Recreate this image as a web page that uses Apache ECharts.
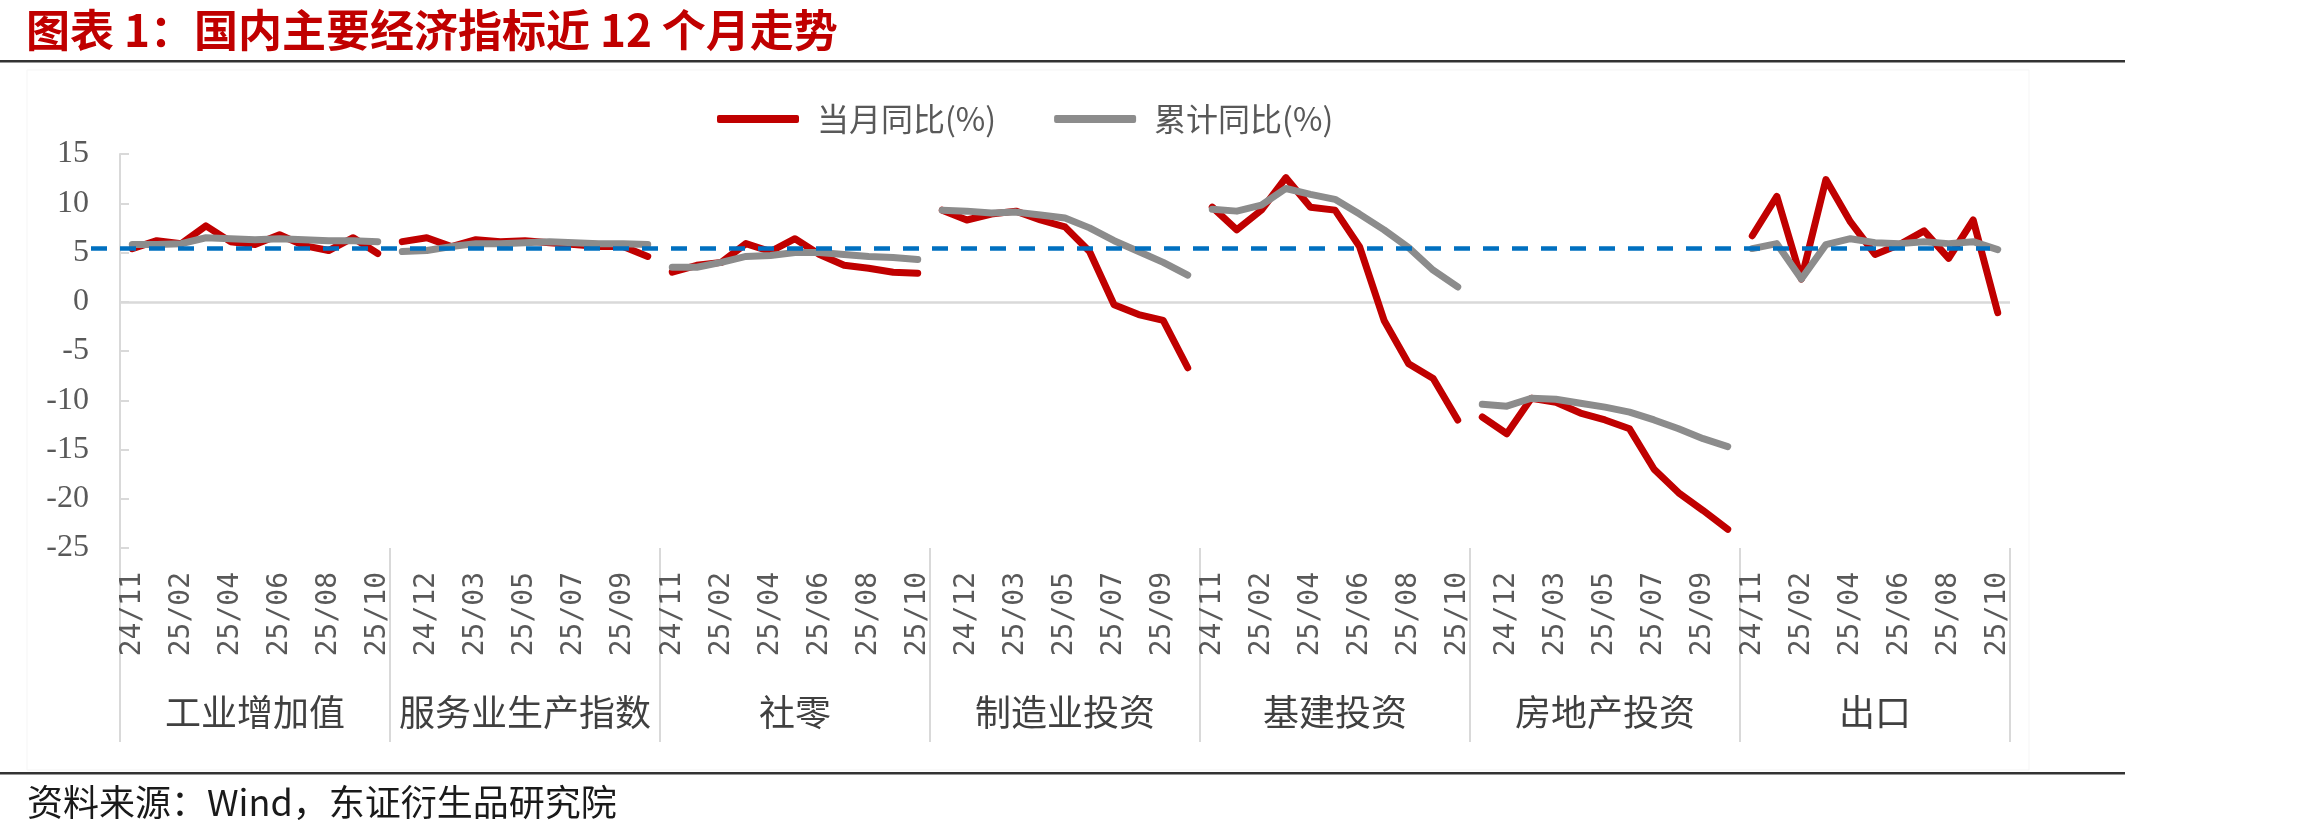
<!DOCTYPE html>
<html>
<head>
<meta charset="utf-8">
<title>国内主要经济指标近12个月走势</title>
<script src="https://cdn.jsdelivr.net/npm/echarts@6/dist/echarts.min.js"></script>
<style>
    html,body{margin:0;padding:0;background:#fff;}
    #main{width:2303px;height:833px;}
</style>
</head>
<body>
<div id="main"></div>
<script>
//月份（1、2月合并）
let months = ['24/11','24/12','25/02','25/03','25/04','25/05','25/06','25/07','25/08','25/09','25/10']
//指标分组
let groups = ['工业增加值','服务业生产指数','社零','制造业投资','基建投资','房地产投资','出口']
//y轴刻度
let yTicks = [-25,-20,-15,-10,-5,0,5,10,15]
//参考虚线
let refValue = 5.4

//当月同比
let monthIndustry = [5.4, 6.2, 5.9, 7.7, 6.1, 5.8, 6.8, 5.7, 5.2, 6.5, 4.9]
let monthService  = [6.1, 6.5, 5.6, 6.3, 6.1, 6.2, 6.0, 5.8, 5.6, 5.6, 4.6]
let monthRetail   = [3.0, 3.7, 4.0, 5.9, 5.1, 6.4, 4.8, 3.7, 3.4, 3.0, 2.9]
let monthManu     = [9.3, 8.3, 8.9, 9.2, 8.3, 7.6, 5.1, -0.3, -1.3, -1.9, -6.7]
let monthInfra    = [9.6, 7.3, 9.3, 12.6, 9.6, 9.3, 5.6, -1.9, -6.3, -7.8, -12.0]
let monthEstate   = [-11.7, -13.4, -9.8, -10.2, -11.3, -12.0, -12.9, -17.0, -19.4, -21.2, -23.1]
let monthExport   = [6.7, 10.7, 2.3, 12.4, 8.1, 4.8, 5.8, 7.2, 4.4, 8.3, -1.1]

//累计同比
let cumIndustry = [5.8, 5.8, 5.9, 6.5, 6.4, 6.3, 6.4, 6.3, 6.2, 6.2, 6.1]
let cumService  = [5.1, 5.2, 5.6, 5.9, 5.9, 6.0, 6.1, 6.0, 5.9, 5.9, 5.8]
let cumRetail   = [3.5, 3.5, 4.0, 4.6, 4.7, 5.0, 5.0, 4.8, 4.6, 4.5, 4.3]
let cumManu     = [9.3, 9.2, 9.0, 9.1, 8.8, 8.5, 7.5, 6.2, 5.1, 4.0, 2.7]
let cumInfra    = [9.4, 9.2, 9.8, 11.5, 10.9, 10.4, 8.9, 7.3, 5.5, 3.2, 1.5]
let cumEstate   = [-10.4, -10.6, -9.8, -9.9, -10.3, -10.7, -11.2, -12.0, -12.9, -13.9, -14.7]
let cumExport   = [5.4, 5.9, 2.3, 5.8, 6.4, 6.0, 5.9, 6.1, 5.9, 6.1, 5.3]

let monthList = [monthIndustry, monthService, monthRetail, monthManu, monthInfra, monthEstate, monthExport]
let cumList = [cumIndustry, cumService, cumRetail, cumManu, cumInfra, cumEstate, cumExport]

let redColor = '#C00000'
let grayColor = '#8C8C8C'
let axisGray = '#D9D9D9'
let textGray = '#595959'

//分类轴：分组|月份
let categories = []
groups.forEach((g, gi) => {
    months.forEach(m => {
        categories.push(gi + '|' + m)
    })
})

//把某一组的数据放到整条轴上，其余位置为空，线条在组间断开
function fillGroup(gi, arr){
    let out = []
    for(let i = 0; i < categories.length; i++){
        out.push(null)
    }
    arr.forEach((v, j) => {
        out[gi * months.length + j] = v
    })
    return out
}

let seriesList = []
monthList.forEach((arr, gi) => {
    seriesList.push({
        name:'当月同比(%)',
        type:'line',
        data:fillGroup(gi, arr),
        symbol:'none',
        z:3,
        itemStyle:{color:redColor},
        lineStyle:{color:redColor, width:7, cap:'round', join:'round'}
    })
})
cumList.forEach((arr, gi) => {
    seriesList.push({
        name:'累计同比(%)',
        type:'line',
        data:fillGroup(gi, arr),
        symbol:'none',
        z:4,
        itemStyle:{color:grayColor},
        lineStyle:{color:grayColor, width:7, cap:'round', join:'round'}
    })
})
//0轴横线
seriesList.push({
    name:'zero',
    type:'line',
    data:[],
    z:1,
    markLine:{
        silent:true,
        symbol:['none','none'],
        z:1,
        label:{show:false},
        lineStyle:{color:axisGray, width:2.5, type:'solid'},
        data:[{yAxis:0}]
    }
})
//参考虚线
seriesList.push({
    name:'ref',
    type:'line',
    xAxisIndex:2,
    yAxisIndex:1,
    data:[[0, refValue],[1, refValue]],
    symbol:'none',
    z:6,
    lineStyle:{color:'#0070C0', width:4.5, type:[16,13]}
})

let myChart = echarts.init(document.getElementById('main'))
let option = {
    backgroundColor:'#fff',
    animation:false,
    title:[{
        text:'图表 1：国内主要经济指标近 12 个月走势',
        left:26,
        top:8,
        padding:0,
        textStyle:{color:'#C00000', fontSize:44, fontWeight:'bold', fontFamily:'Noto Sans CJK SC'}
    },{
        text:'资料来源：Wind，东证衍生品研究院',
        left:27,
        top:784,
        padding:0,
        textStyle:{color:'#1A1A1A', fontSize:36, fontWeight:'normal', fontFamily:'Noto Sans CJK SC'}
    }],
    legend:{
        data:['当月同比(%)','累计同比(%)'],
        left:717,
        top:103,
        padding:0,
        icon:'roundRect',
        itemWidth:82,
        itemHeight:8,
        itemGap:58,
        textStyle:{fontSize:32, color:textGray, fontFamily:'Noto Sans CJK SC', padding:[0,0,0,13]}
    },
    graphic:[
        {type:'rect', shape:{x:27, y:70, width:2002, height:700}, style:{fill:'none', stroke:'#F5F5F5', lineWidth:1}},
        {type:'rect', shape:{x:0, y:60, width:2125, height:2.5}, style:{fill:'#333'}},
        {type:'rect', shape:{x:0, y:772, width:2125, height:2.5}, style:{fill:'#333'}}
    ],
    grid:[
        {left:120, right:293, top:154, bottom:285, containLabel:false, outerBoundsMode:'none'},
        {left:91, right:313, top:154, bottom:285, containLabel:false, outerBoundsMode:'none'}
    ],
    xAxis:[{
        type:'category',
        data:categories,
        position:'bottom',
        boundaryGap:true,
        axisLine:{show:false, onZero:false},
        axisTick:{show:false},
        splitLine:{show:false},
        axisLabel:{
            interval:1,
            rotate:90,
            margin:24,
            fontSize:28,
            color:textGray,
            fontFamily:'DejaVu Sans Mono',
            formatter:v => v.split('|')[1]
        }
    },{
        type:'category',
        data:groups,
        position:'bottom',
        boundaryGap:true,
        axisLine:{show:false, onZero:false},
        axisTick:{show:true, interval:0, length:194, lineStyle:{color:axisGray, width:2}},
        splitLine:{show:false},
        axisLabel:{interval:0, margin:146, fontSize:36, color:'#404040', fontFamily:'Noto Sans CJK SC'}
    },{
        gridIndex:1,
        type:'value',
        min:0,
        max:1,
        show:false
    }],
    yAxis:[{
        type:'value',
        min:yTicks[0],
        max:yTicks[yTicks.length - 1],
        interval:5,
        axisLine:{show:true, lineStyle:{color:axisGray, width:2}},
        axisTick:{show:true, inside:true, length:9, lineStyle:{color:axisGray, width:2}},
        splitLine:{show:false},
        axisLabel:{margin:31, fontSize:32, color:textGray, fontFamily:'Liberation Serif'}
    },{
        gridIndex:1,
        type:'value',
        min:yTicks[0],
        max:yTicks[yTicks.length - 1],
        show:false
    }],
    series:seriesList
}
myChart.setOption(option)
</script>
</body>
</html>
